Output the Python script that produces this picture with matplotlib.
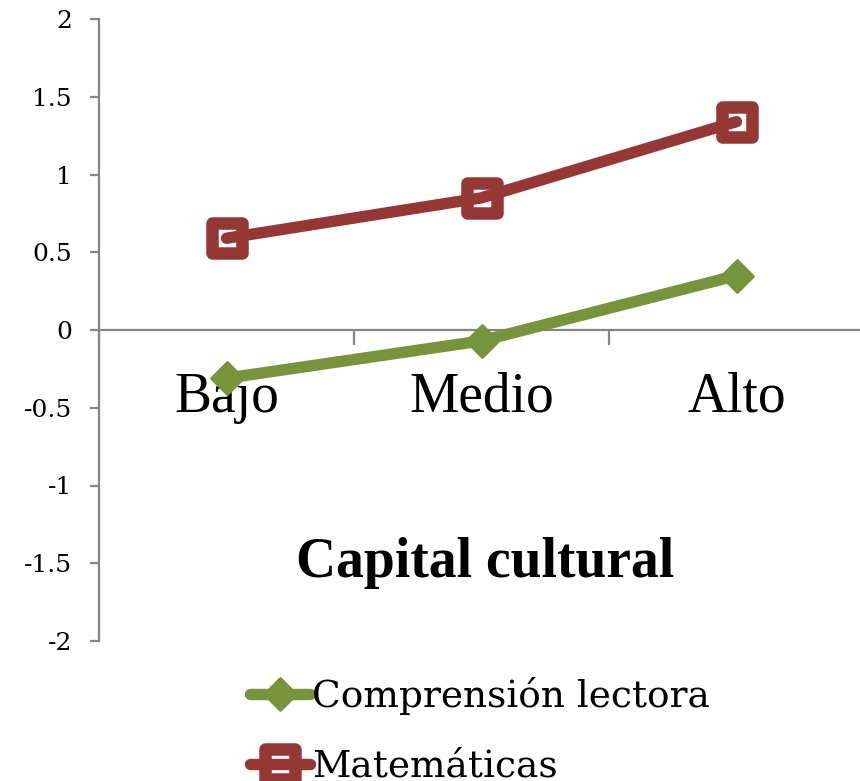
import matplotlib
matplotlib.use("Agg")
import matplotlib.pyplot as plt
from matplotlib.ticker import FixedLocator
from matplotlib.markers import MarkerStyle

plt.rcParams['axes.unicode_minus'] = False

categories = ["Bajo", "Medio", "Alto"]
comprension = [-0.31, -0.07, 0.35]
matematicas = [0.59, 0.85, 1.34]
series_names = ["Comprensión lectora", "Matemáticas"]
yticks = [-2, -1.5, -1, -0.5, 0, 0.5, 1, 1.5, 2]
ytick_labels = ["-2", "-1.5", "-1", "-0.5", "0", "0.5", "1", "1.5", "2"]
xlabel = "Capital cultural"

green = "#77933C"
red = "#953735"
gray = "#868686"

fig = plt.figure(figsize=(8.6, 7.81), dpi=100)
ax = fig.add_axes([99/860, 140/781, 765/860, 622/781])

x = list(range(len(categories)))
ax.plot(x, comprension, color=green, lw=8.2, marker=MarkerStyle('D', joinstyle='round'),
        markersize=16, markerfacecolor=green, markeredgecolor=green, markeredgewidth=2,
        solid_joinstyle='round', solid_capstyle='round', label=series_names[0],
        clip_on=False, zorder=3)
ax.plot(x, matematicas, color=red, lw=8.2, marker=MarkerStyle('s', joinstyle='round'),
        markersize=21, markerfacecolor='none', markeredgecolor=red, markeredgewidth=9,
        solid_joinstyle='round', solid_capstyle='round', label=series_names[1],
        clip_on=False, zorder=3)

ax.set_xlim(-0.5, 2.5)
ax.set_ylim(-2, 2)

for s in ['top', 'right']:
    ax.spines[s].set_visible(False)
ax.spines['left'].set_color(gray)
ax.spines['left'].set_linewidth(1.6)
ax.spines['bottom'].set_color(gray)
ax.spines['bottom'].set_linewidth(1.6)
ax.spines['bottom'].set_position(('data', 0))

ax.set_yticks(yticks)
ax.set_yticklabels(ytick_labels, fontfamily='DejaVu Serif', fontsize=18)
ax.tick_params(axis='y', direction='out', length=6.5, width=1.6, color=gray, pad=13)

ax.set_xticks(x)
ax.set_xticklabels(categories, fontfamily='Liberation Serif', fontsize=40)
ax.xaxis.set_minor_locator(FixedLocator([-0.5, 0.5, 1.5, 2.5]))
ax.tick_params(axis='x', which='major', length=0, pad=30)
ax.tick_params(axis='x', which='minor', direction='out', length=11, width=1.6, color=gray)

ax.text(0.505, 0.125, xlabel, transform=ax.transAxes, ha='center', va='center',
        fontfamily='Liberation Serif', fontweight='bold', fontsize=40)

leg = fig.legend(loc='upper left', bbox_to_anchor=(250/860, 1 - 677/781),
                 frameon=False, prop={'family': 'DejaVu Serif', 'size': 27},
                 handlelength=1.6, handletextpad=0.05, labelspacing=0.9,
                 borderaxespad=0, borderpad=0)

fig.savefig("out.png", dpi=100)
